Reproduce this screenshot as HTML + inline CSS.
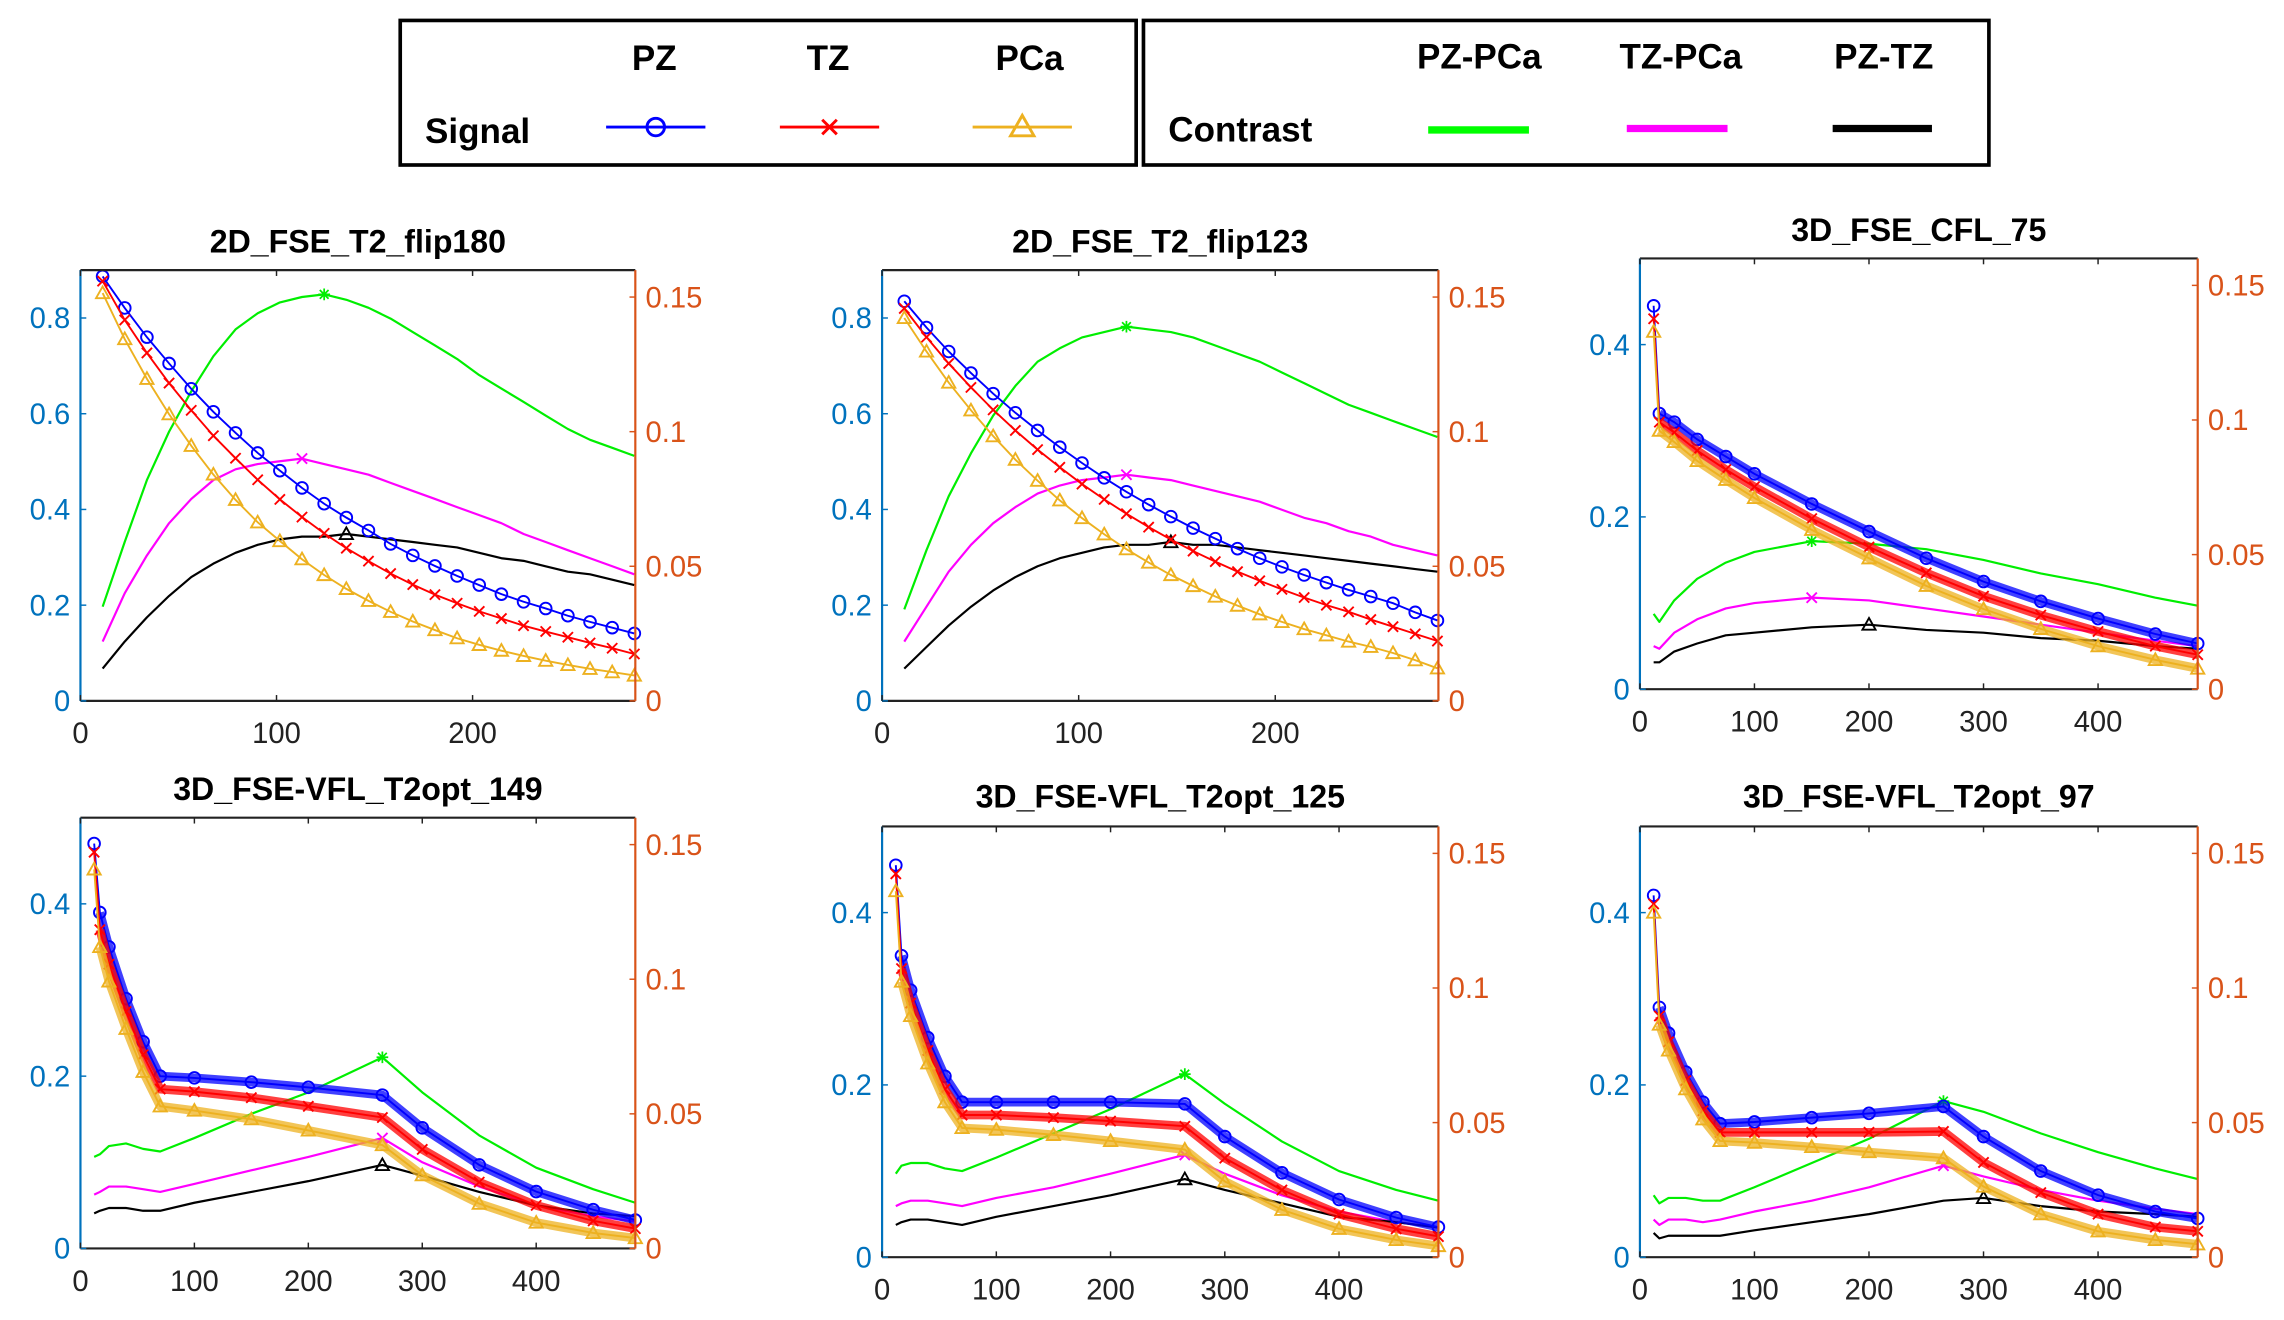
<!DOCTYPE html>
<html><head><meta charset="utf-8">
<style>
html,body{margin:0;padding:0;background:#fff;}
svg{display:block;}
text{font-family:"Liberation Sans",Arial,sans-serif;}
</style></head>
<body>
<svg id="fig" width="2284" height="1320" viewBox="0 0 1564 904" xmlns="http://www.w3.org/2000/svg">
<g>
<rect x="274" y="14" width="504" height="99" fill="none" stroke="#000" stroke-width="2.5"/>
<text x="448" y="48" font-size="24" font-weight="bold" text-anchor="middle">PZ</text>
<text x="567" y="48" font-size="24" font-weight="bold" text-anchor="middle">TZ</text>
<text x="705" y="48" font-size="24" font-weight="bold" text-anchor="middle">PCa</text>
<text x="291" y="98" font-size="24" font-weight="bold">Signal</text>
<g><line x1="415" y1="87" x2="483" y2="87" stroke="#0000ff" stroke-width="2"/><circle cx="449" cy="87" r="6" fill="none" stroke="#0000ff" stroke-width="2"/></g>
<g><line x1="534" y1="87" x2="602" y2="87" stroke="#ff0000" stroke-width="2"/><path d="M563 82 L573 92 M573 82 L563 92" stroke="#ff0000" stroke-width="2"/></g>
<g><line x1="666" y1="87" x2="734" y2="87" stroke="#EDB120" stroke-width="2"/><path d="M700 79 L708 93 L692 93 Z" fill="none" stroke="#EDB120" stroke-width="2"/></g>
</g>
<g>
<rect x="783" y="14" width="579" height="99" fill="none" stroke="#000" stroke-width="2.5"/>
<text x="1013" y="47" font-size="24" font-weight="bold" text-anchor="middle">PZ-PCa</text>
<text x="1151" y="47" font-size="24" font-weight="bold" text-anchor="middle">TZ-PCa</text>
<text x="1290" y="47" font-size="24" font-weight="bold" text-anchor="middle">PZ-TZ</text>
<text x="800" y="97" font-size="24" font-weight="bold">Contrast</text>
<line x1="978" y1="89" x2="1047" y2="89" stroke="#00ff00" stroke-width="5"/>
<line x1="1114" y1="88" x2="1183" y2="88" stroke="#ff00ff" stroke-width="5"/>
<line x1="1255" y1="88" x2="1323" y2="88" stroke="#000" stroke-width="5"/>
</g>
</svg>
<script>
// ---- Data ----
const te2D = [11.3,22.6,33.9,45.2,56.5,67.8,79.1,90.4,101.7,113,124.3,135.6,146.9,158.2,169.5,180.8,192.1,203.4,214.7,226,237.3,248.6,259.9,271.2,282.5];
const p1PZ = [0.887,0.821,0.760,0.705,0.652,0.604,0.560,0.518,0.481,0.445,0.412,0.383,0.356,0.328,0.304,0.282,0.261,0.242,0.223,0.207,0.193,0.178,0.165,0.153,0.141];
const p1TZ = [0.877,0.796,0.727,0.664,0.607,0.554,0.507,0.462,0.421,0.384,0.350,0.319,0.292,0.266,0.243,0.222,0.204,0.187,0.172,0.157,0.145,0.133,0.121,0.110,0.098];
const p1PCa = [0.852,0.756,0.673,0.599,0.533,0.473,0.420,0.373,0.334,0.296,0.263,0.234,0.209,0.186,0.166,0.148,0.131,0.117,0.105,0.094,0.084,0.075,0.067,0.060,0.053];
const p1PZPCa = [0.035,0.059,0.082,0.100,0.115,0.128,0.138,0.144,0.148,0.150,0.151,0.149,0.146,0.142,0.137,0.132,0.127,0.121,0.116,0.111,0.106,0.101,0.097,0.094,0.091];
const p1TZPCa = [0.022,0.040,0.054,0.066,0.075,0.082,0.086,0.088,0.089,0.090,0.088,0.086,0.084,0.081,0.078,0.075,0.072,0.069,0.066,0.062,0.059,0.056,0.053,0.050,0.047];
const p1PZTZ = [0.012,0.022,0.031,0.039,0.046,0.051,0.055,0.058,0.060,0.061,0.061,0.062,0.061,0.060,0.059,0.058,0.057,0.055,0.053,0.052,0.050,0.048,0.047,0.045,0.043];
const p2PZ = [0.835,0.780,0.730,0.685,0.642,0.602,0.565,0.530,0.497,0.466,0.437,0.410,0.385,0.361,0.339,0.318,0.298,0.280,0.263,0.247,0.232,0.218,0.204,0.185,0.168];
const p2TZ = [0.820,0.760,0.705,0.655,0.608,0.565,0.525,0.488,0.453,0.421,0.391,0.363,0.337,0.313,0.291,0.270,0.251,0.233,0.216,0.200,0.186,0.170,0.155,0.140,0.125];
const p2PCa = [0.800,0.730,0.665,0.607,0.553,0.504,0.460,0.419,0.382,0.348,0.317,0.289,0.263,0.240,0.218,0.199,0.181,0.165,0.150,0.137,0.124,0.113,0.100,0.085,0.068];
const p2PZPCa = [0.034,0.056,0.076,0.092,0.106,0.117,0.126,0.131,0.135,0.137,0.139,0.138,0.137,0.135,0.132,0.129,0.126,0.122,0.118,0.114,0.110,0.107,0.104,0.101,0.098];
const p2TZPCa = [0.022,0.035,0.048,0.058,0.066,0.072,0.077,0.080,0.082,0.083,0.084,0.083,0.082,0.080,0.078,0.076,0.074,0.071,0.068,0.066,0.063,0.061,0.058,0.056,0.054];
const p2PZTZ = [0.012,0.020,0.028,0.035,0.041,0.046,0.050,0.053,0.055,0.057,0.058,0.058,0.059,0.058,0.058,0.057,0.056,0.055,0.054,0.053,0.052,0.051,0.050,0.049,0.048];
const te3 = [12,17,30,50,75,100,150,200,250,300,350,400,450,487];
const p3PZ = [0.445,0.320,0.310,0.290,0.270,0.250,0.215,0.183,0.152,0.125,0.102,0.082,0.064,0.053];
const p3TZ = [0.430,0.310,0.298,0.277,0.255,0.235,0.198,0.165,0.135,0.108,0.086,0.067,0.050,0.040];
const p3PCa = [0.415,0.300,0.287,0.265,0.243,0.222,0.185,0.152,0.120,0.093,0.070,0.050,0.034,0.024];
const p3PZPCa = [0.028,0.025,0.033,0.041,0.047,0.051,0.055,0.054,0.052,0.048,0.043,0.039,0.034,0.031];
const p3TZPCa = [0.016,0.015,0.021,0.026,0.030,0.032,0.034,0.033,0.030,0.027,0.024,0.021,0.018,0.016];
const p3PZTZ = [0.010,0.010,0.014,0.017,0.020,0.021,0.023,0.024,0.022,0.021,0.019,0.018,0.016,0.015];
const teVFL = [12,17,25,40,55,70,100,150,200,265,300,350,400,450,487];
const p4PZ = [0.470,0.390,0.350,0.290,0.240,0.200,0.198,0.193,0.187,0.178,0.140,0.097,0.066,0.045,0.033];
const p4TZ = [0.460,0.370,0.330,0.275,0.225,0.185,0.182,0.175,0.165,0.152,0.115,0.077,0.050,0.032,0.023];
const p4PCa = [0.440,0.350,0.310,0.255,0.205,0.165,0.160,0.150,0.137,0.120,0.085,0.052,0.030,0.018,0.012];
const p4PZPCa = [0.034,0.035,0.038,0.039,0.037,0.036,0.041,0.050,0.058,0.071,0.058,0.042,0.030,0.022,0.017];
const p4TZPCa = [0.020,0.021,0.023,0.023,0.022,0.021,0.024,0.029,0.034,0.041,0.032,0.023,0.016,0.012,0.010];
const p4PZTZ = [0.013,0.014,0.015,0.015,0.014,0.014,0.017,0.021,0.025,0.031,0.027,0.021,0.016,0.013,0.012];
const p5PZ = [0.455,0.350,0.310,0.255,0.210,0.180,0.180,0.180,0.180,0.178,0.140,0.098,0.067,0.046,0.035];
const p5TZ = [0.445,0.335,0.295,0.240,0.195,0.165,0.165,0.162,0.158,0.152,0.115,0.078,0.050,0.033,0.024];
const p5PCa = [0.425,0.320,0.280,0.225,0.180,0.150,0.148,0.142,0.135,0.125,0.088,0.055,0.033,0.020,0.013];
const p5PZPCa = [0.031,0.034,0.035,0.035,0.033,0.032,0.037,0.046,0.055,0.068,0.057,0.043,0.032,0.025,0.021];
const p5TZPCa = [0.019,0.020,0.021,0.021,0.020,0.019,0.022,0.026,0.031,0.038,0.031,0.023,0.017,0.013,0.011];
const p5PZTZ = [0.012,0.013,0.014,0.014,0.013,0.012,0.015,0.019,0.023,0.029,0.025,0.020,0.015,0.013,0.011];
const p6PZ = [0.420,0.290,0.260,0.215,0.180,0.155,0.157,0.162,0.167,0.175,0.140,0.100,0.072,0.053,0.045];
const p6TZ = [0.410,0.280,0.250,0.205,0.170,0.145,0.145,0.145,0.145,0.146,0.110,0.075,0.050,0.035,0.030];
const p6PCa = [0.400,0.270,0.240,0.195,0.160,0.135,0.133,0.128,0.122,0.115,0.082,0.050,0.030,0.020,0.015];
const p6PZPCa = [0.023,0.020,0.022,0.022,0.021,0.021,0.026,0.035,0.044,0.058,0.054,0.046,0.039,0.033,0.029];
const p6TZPCa = [0.014,0.012,0.014,0.014,0.013,0.014,0.017,0.021,0.026,0.034,0.030,0.025,0.021,0.018,0.016];
const p6PZTZ = [0.009,0.007,0.008,0.008,0.008,0.008,0.010,0.013,0.016,0.021,0.022,0.019,0.017,0.016,0.015];
const titles = ["2D_FSE_T2_flip180","2D_FSE_T2_flip123","3D_FSE_CFL_75","3D_FSE-VFL_T2opt_149","3D_FSE-VFL_T2opt_125","3D_FSE-VFL_T2opt_97"];
const leftTicks2D = [0,0.2,0.4,0.6,0.8];
const leftTicks3D = [0,0.2,0.4];
const rightTicks = [0,0.05,0.1,0.15];
const rightTickLabels = ["0","0.05","0.1","0.15"];
const xTicks2D = [0,100,200];
const xTicks3D = [0,100,200,300,400];

// ---- Layout ----
const panels = [
 {name:"flip180",x0:55,x1:435,y0:185,y1:480,ty:173,xmax:283,ymax:0.9,te:te2D,s:[p1PZ,p1TZ,p1PCa],c:[p1PZPCa,p1TZPCa,p1PZTZ],lt:leftTicks2D,xt:xTicks2D,dense:false},
 {name:"flip123",x0:604,x1:985,y0:185,y1:480,ty:173,xmax:283,ymax:0.9,te:te2D,s:[p2PZ,p2TZ,p2PCa],c:[p2PZPCa,p2TZPCa,p2PZTZ],lt:leftTicks2D,xt:xTicks2D,dense:false},
 {name:"cfl75",x0:1123,x1:1505,y0:177,y1:472,ty:165,xmax:487,ymax:0.5,te:te3,s:[p3PZ,p3TZ,p3PCa],c:[p3PZPCa,p3TZPCa,p3PZTZ],lt:leftTicks3D,xt:xTicks3D,dense:true},
 {name:"vfl149",x0:55,x1:435,y0:560,y1:855,ty:548,xmax:487,ymax:0.5,te:teVFL,s:[p4PZ,p4TZ,p4PCa],c:[p4PZPCa,p4TZPCa,p4PZTZ],lt:leftTicks3D,xt:xTicks3D,dense:true},
 {name:"vfl125",x0:604,x1:985,y0:566,y1:861,ty:553,xmax:487,ymax:0.5,te:teVFL,s:[p5PZ,p5TZ,p5PCa],c:[p5PZPCa,p5TZPCa,p5PZTZ],lt:leftTicks3D,xt:xTicks3D,dense:true},
 {name:"vfl97",x0:1123,x1:1505,y0:566,y1:861,ty:553,xmax:487,ymax:0.5,te:teVFL,s:[p6PZ,p6TZ,p6PCa],c:[p6PZPCa,p6TZPCa,p6PZTZ],lt:leftTicks3D,xt:xTicks3D,dense:true}
];
const sigColors = ["#0000ff","#ff0000","#EDB120"];
const sigNames = ["pz","tz","pca"];
const conColors = ["#00ee00","#ff00ff","#000000"];
const conNames = ["pz-pca","tz-pca","pz-tz"];
const NS = "http://www.w3.org/2000/svg";
const svg = document.getElementById("fig");
function mk(tag, attrs, parent){const e=document.createElementNS(NS,tag);for(const k in attrs)e.setAttribute(k,attrs[k]);(parent||svg).appendChild(e);return e;}

function marker(g, type, x, y, col){
  if(type===0){const m=mk("circle",{cx:x,cy:y,r:4,fill:"none",stroke:col,"stroke-width":1.3},g);
    
    }
  else if(type===1){const m=mk("path",{d:`M${x-3.5} ${y-3.5}L${x+3.5} ${y+3.5}M${x+3.5} ${y-3.5}L${x-3.5} ${y+3.5}`,stroke:col,"stroke-width":1.3},g);
    
    }
  else if(type===2){const m=mk("path",{d:`M${x} ${y-4.5}L${x+4.5} ${y+3.5}L${x-4.5} ${y+3.5}Z`,fill:"none",stroke:col,"stroke-width":1.3},g);
    
    }
  else if(type===3){const m=mk("path",{d:`M${x-4} ${y}L${x+4} ${y}M${x} ${y-4}L${x} ${y+4}M${x-3} ${y-3}L${x+3} ${y+3}M${x+3} ${y-3}L${x-3} ${y+3}`,stroke:col,"stroke-width":1.2},g);
    
    }
}

panels.forEach((p,pi)=>{
  const g = mk("g",{});
  
  
  const xs = v => p.x0 + v/p.xmax*(p.x1-p.x0);
  const yl = v => p.y1 - v/p.ymax*(p.y1-p.y0);
  const yr = v => p.y1 - v/0.16*(p.y1-p.y0);
  const t = mk("text",{x:(p.x0+p.x1)/2,y:p.ty,"font-size":22,"font-weight":"bold","text-anchor":"middle"},g);
  t.textContent = titles[pi];
  
  
  p.c.forEach((arr,ci)=>{
    const pts = arr.map((v,i)=>xs(p.te[i]).toFixed(1)+","+yr(v).toFixed(1)).join(" ");
    const l = mk("polyline",{points:pts,fill:"none",stroke:conColors[ci],"stroke-width":1.5,"stroke-linejoin":"round"},g);
    
    
    let mi=0; arr.forEach((v,i)=>{if(v>arr[mi])mi=i;});
    marker(g,[3,1,2][ci],xs(p.te[mi]),yr(arr[mi]),conColors[ci]);
  });
  p.s.forEach((arr,si)=>{
    const pts = arr.map((v,i)=>xs(p.te[i]).toFixed(1)+","+yl(v).toFixed(1)).join(" ");
    if(p.dense){
      const b = mk("polyline",{points:pts.split(" ").slice(1).join(" "),fill:"none",stroke:sigColors[si],"stroke-width":6,"stroke-opacity":0.75,"stroke-linejoin":"round"},g);
      
      
    }
    const l = mk("polyline",{points:pts,fill:"none",stroke:sigColors[si],"stroke-width":1.3},g);
    
    
    arr.forEach((v,i)=>marker(g,si,xs(p.te[i]),yl(v),sigColors[si]));
  });
  mk("line",{x1:p.x0,y1:p.y0,x2:p.x1,y2:p.y0,stroke:"#222","stroke-width":1.5},g);
  mk("line",{x1:p.x0,y1:p.y1,x2:p.x1,y2:p.y1,stroke:"#222","stroke-width":1.5},g);
  const la = mk("line",{x1:p.x0,y1:p.y0,x2:p.x0,y2:p.y1,stroke:"#0072BD","stroke-width":1.5},g);
  
  
  const ra = mk("line",{x1:p.x1,y1:p.y0,x2:p.x1,y2:p.y1,stroke:"#D95319","stroke-width":1.5},g);
  
  
  p.lt.forEach(v=>{
    const y=yl(v);
    mk("line",{x1:p.x0,y1:y,x2:p.x0+4,y2:y,stroke:"#0072BD","stroke-width":1},g);
    const tx=mk("text",{x:p.x0-7,y:y+7,"font-size":20,fill:"#0072BD","text-anchor":"end"},g);
    tx.textContent=String(v);
    
    
  });
  rightTicks.forEach((v,i)=>{
    const y=yr(v);
    mk("line",{x1:p.x1-4,y1:y,x2:p.x1,y2:y,stroke:"#D95319","stroke-width":1},g);
    const tx=mk("text",{x:p.x1+7,y:y+7,"font-size":20,fill:"#D95319"},g);
    tx.textContent=rightTickLabels[i];
    
    
  });
  p.xt.forEach(v=>{
    const x=xs(v);
    mk("line",{x1:x,y1:p.y1,x2:x,y2:p.y1-4,stroke:"#222","stroke-width":1},g);
    mk("line",{x1:x,y1:p.y0,x2:x,y2:p.y0+4,stroke:"#222","stroke-width":1},g);
    const tx=mk("text",{x:x,y:p.y1+29,"font-size":20,fill:"#222","text-anchor":"middle"},g);
    tx.textContent=String(v);
    
    
  });
});
</script>
</body></html>
